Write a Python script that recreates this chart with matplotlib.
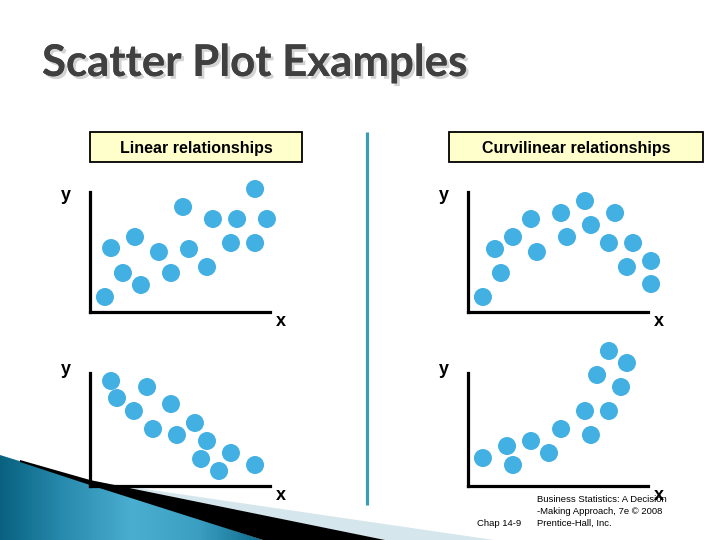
import matplotlib
matplotlib.use("Agg")
import matplotlib.pyplot as plt
import matplotlib.patheffects as pe
import numpy as np
from matplotlib.patches import Polygon, Rectangle
from matplotlib.colors import LinearSegmentedColormap
from matplotlib.transforms import offset_copy

# Positive linear relationship (top left)
lin_up_x = [0.83, 1.83, 2.83, 1.17, 2.5, 3.83, 4.5, 5.5, 5.17, 6.5, 6.83, 8.17, 9.83, 9.17, 7.83, 9.17]
lin_up_y = [1.25, 3.25, 2.25, 5.33, 6.25, 5.0, 3.25, 5.25, 8.75, 3.75, 7.75, 7.75, 7.75, 10.25, 5.75, 5.75]

# Curvilinear, inverted U (top right)
curv_cap_x = [0.83, 1.83, 1.5, 2.5, 3.5, 3.83, 5.17, 5.5, 6.5, 6.83, 8.17, 7.83, 9.17, 8.83, 10.17, 10.17]
curv_cap_y = [1.25, 3.25, 5.25, 6.25, 7.75, 5.0, 8.25, 6.25, 9.25, 7.25, 8.25, 5.75, 5.75, 3.75, 4.25, 2.33]

# Negative linear relationship (bottom left)
lin_down_x = [1.17, 1.5, 3.17, 2.44, 4.5, 3.5, 4.83, 5.83, 6.5, 6.17, 7.17, 7.83, 9.17]
lin_down_y = [8.75, 7.33, 8.25, 6.25, 6.83, 4.75, 4.25, 5.25, 3.75, 2.25, 1.25, 2.75, 1.75]

# Curvilinear, increasing (bottom right)
curv_up_x = [0.83, 2.17, 2.5, 3.5, 4.5, 5.17, 6.5, 6.83, 7.83, 7.17, 8.5, 7.83, 8.83]
curv_up_y = [2.33, 3.33, 1.75, 3.75, 2.75, 4.75, 6.25, 4.25, 6.25, 9.25, 8.25, 11.25, 10.25]

W, H = 720, 540
DOT = "#42b0e2"

fig = plt.figure(figsize=(7.2, 5.4), dpi=100)

# background layer in pixel coordinates for slide decorations
bg = fig.add_axes([0, 0, 1, 1], zorder=0)
bg.set_xlim(0, W)
bg.set_ylim(H, 0)
bg.axis("off")

# bottom-left blue swoosh
wedge = Polygon([(0, 455), (90, 483), (263, 540), (0, 540)], closed=True,
                facecolor="none", edgecolor="none")
bg.add_patch(wedge)
cmap = LinearSegmentedColormap.from_list(
    "swoosh", ["#08617f", "#2a8db0", "#4aaed0", "#3b9fc2", "#0d6a8a"])
grad = np.linspace(0, 1, 256).reshape(1, -1)
img = bg.imshow(grad, cmap=cmap, extent=(0, 265, 540, 450), aspect="auto", zorder=1)
img.set_clip_path(wedge)
bg.set_xlim(0, W)
bg.set_ylim(H, 0)
bg.add_patch(Polygon([(90, 481), (494, 540), (385, 540)], closed=True,
                     facecolor="#d6e6ed", edgecolor="none", zorder=1))
bg.add_patch(Polygon([(20, 460), (90, 480), (385, 540), (263, 540), (90, 485), (20, 462)],
                     closed=True, facecolor="black", edgecolor="none", zorder=2))

# vertical separator
bg.plot([367, 367], [132, 505], color="#3a9cb5", lw=2.3, solid_capstyle="butt", zorder=2)

# title with soft shadow
bg.text(42, 63, "Scatter Plot Examples", fontsize=31.5, fontweight="bold", family="Lato",
        color="#404040", va="center", ha="left", zorder=3,
        path_effects=[pe.withSimplePatchShadow(offset=(2, -2), shadow_rgbFace="#c8c8c8", alpha=0.8),
                      pe.Normal()])

# label boxes
for (x0, x1, label) in [(90, 302, "Linear relationships"), (449, 703, "Curvilinear relationships")]:
    bg.add_patch(Rectangle((x0, 132), x1 - x0, 30, facecolor="#ffffcc", edgecolor="black",
                           lw=1.3, zorder=2))
    bg.text((x0 + x1) / 2, 148, label, fontsize=11.5, fontweight="bold",
            family="Liberation Sans", ha="center", va="center", zorder=3)

# footer text
foot = dict(fontsize=6.8, family="Liberation Sans", color="black", va="center", ha="left", zorder=3)
bg.text(537, 499, "Business Statistics: A Decision", **foot)
bg.text(537, 511, "-Making Approach, 7e \u00a9 2008", **foot)
bg.text(537, 523, "Prentice-Hall, Inc.", **foot)
bg.text(477, 523, "Chap 14-9", **foot)


def draw_panel(px_box, xs, ys, ylab_dy):
    x0, y0, x1, y1 = px_box
    ax = fig.add_axes([x0 / W, (H - y1) / H, (x1 - x0) / W, (y1 - y0) / H], zorder=2)
    ax.patch.set_alpha(0)
    ax.set_xlim(0, (x1 - x0) / 18)
    ax.set_ylim(0, (y1 - y0) / 12)
    ax.scatter(xs, ys, s=168, c=DOT, edgecolors="none", clip_on=False, zorder=3)
    for side in ("top", "right"):
        ax.spines[side].set_visible(False)
    for side in ("left", "bottom"):
        ax.spines[side].set_linewidth(2.3)
        ax.spines[side].set_color("black")
        ax.spines[side].set_capstyle("projecting")
    ax.set_xticks([])
    ax.set_yticks([])
    lab = dict(fontsize=13, fontweight="bold", family="Liberation Sans", ha="center", va="center")
    ax.text(0, 1, "y", transform=offset_copy(ax.transAxes, fig, x=-24, y=ylab_dy, units="dots"), **lab)
    ax.text(1, 0, "x", transform=offset_copy(ax.transAxes, fig, x=11, y=-9, units="dots"), **lab)
    return ax


draw_panel((90, 192, 270, 312), lin_up_x, lin_up_y, -3)
draw_panel((468, 192, 648, 312), curv_cap_x, curv_cap_y, -3)
draw_panel((90, 373, 270, 486), lin_down_x, lin_down_y, 3)
draw_panel((468, 373, 648, 486), curv_up_x, curv_up_y, 3)

fig.savefig("out.png", dpi=100)
